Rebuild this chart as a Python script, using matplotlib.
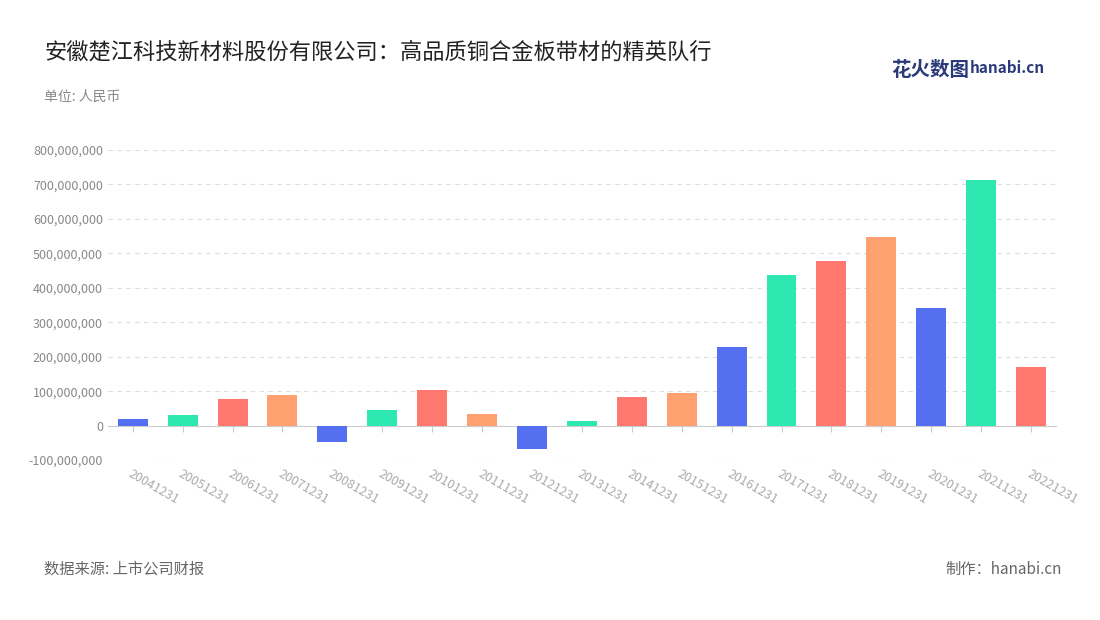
import matplotlib
matplotlib.use("Agg")
import matplotlib.pyplot as plt

plt.rcParams['font.family'] = ['Noto Sans CJK SC', 'DejaVu Sans']

categories = ["20041231","20051231","20061231","20071231","20081231","20091231","20101231",
              "20111231","20121231","20131231","20141231","20151231","20161231","20171231",
              "20181231","20191231","20201231","20211231","20221231"]
values = [20e6, 30e6, 78e6, 90e6, -47e6, 46e6, 104e6, 35e6, -67e6, 12e6, 84e6, 95e6,
          229e6, 437e6, 478e6, 548e6, 342e6, 713e6, 171e6]
palette = ["#5470f0", "#2de8b0", "#ff7870", "#ffa070"]
colors = [palette[i % 4] for i in range(len(values))]

fig = plt.figure(figsize=(11, 6.2), dpi=100)
ax = fig.add_axes([0.098, 0.258, 0.862, 0.5])
for s in ["top", "right", "left"]:
    ax.spines[s].set_visible(False)
ax.spines["bottom"].set_position(("data", 0))
ax.spines["bottom"].set_color("#cccccc")
x = list(range(len(values)))
ax.bar(x, values, width=0.6, color=colors, zorder=3)
ax.set_xlim(-0.5, len(values) - 0.5)
ax.set_ylim(-100e6, 800e6)
ticks = [i * 100e6 for i in range(-1, 9)]
ax.set_yticks(ticks)
ax.set_yticklabels([f"{int(t):,}" for t in ticks], fontsize=9, color="#888888")
ax.set_xticks(x)
ax.set_xticklabels(categories)
plt.setp(ax.get_xticklabels(), rotation=-30, ha="left", rotation_mode="anchor",
         fontsize=9, color="#aaaaaa")
ax.grid(axis="y", linestyle=(0, (4, 4)), color="#dddddd", zorder=0)
ax.tick_params(axis="y", length=0)
ax.tick_params(axis="x", length=4, color="#cccccc", pad=26)

fig.text(0.04, 0.905, "安徽楚江科技新材料股份有限公司：高品质铜合金板带材的精英队行",
         fontsize=16, color="#222222")
fig.text(0.04, 0.838, "单位: 人民币", fontsize=10, color="#888888")
fig.text(0.04, 0.075, "数据来源: 上市公司财报", fontsize=11, color="#666666")
fig.text(0.965, 0.075, "制作：hanabi.cn", fontsize=11, color="#666666", ha="right")
fig.text(0.81, 0.878, "花火数图", fontsize=14, color="#2a3a7a", fontweight="bold")
fig.text(0.882, 0.882, "hanabi.cn", fontsize=11, color="#2a3a7a", fontweight="bold")
fig.savefig("out.png", dpi=100, facecolor="white")
